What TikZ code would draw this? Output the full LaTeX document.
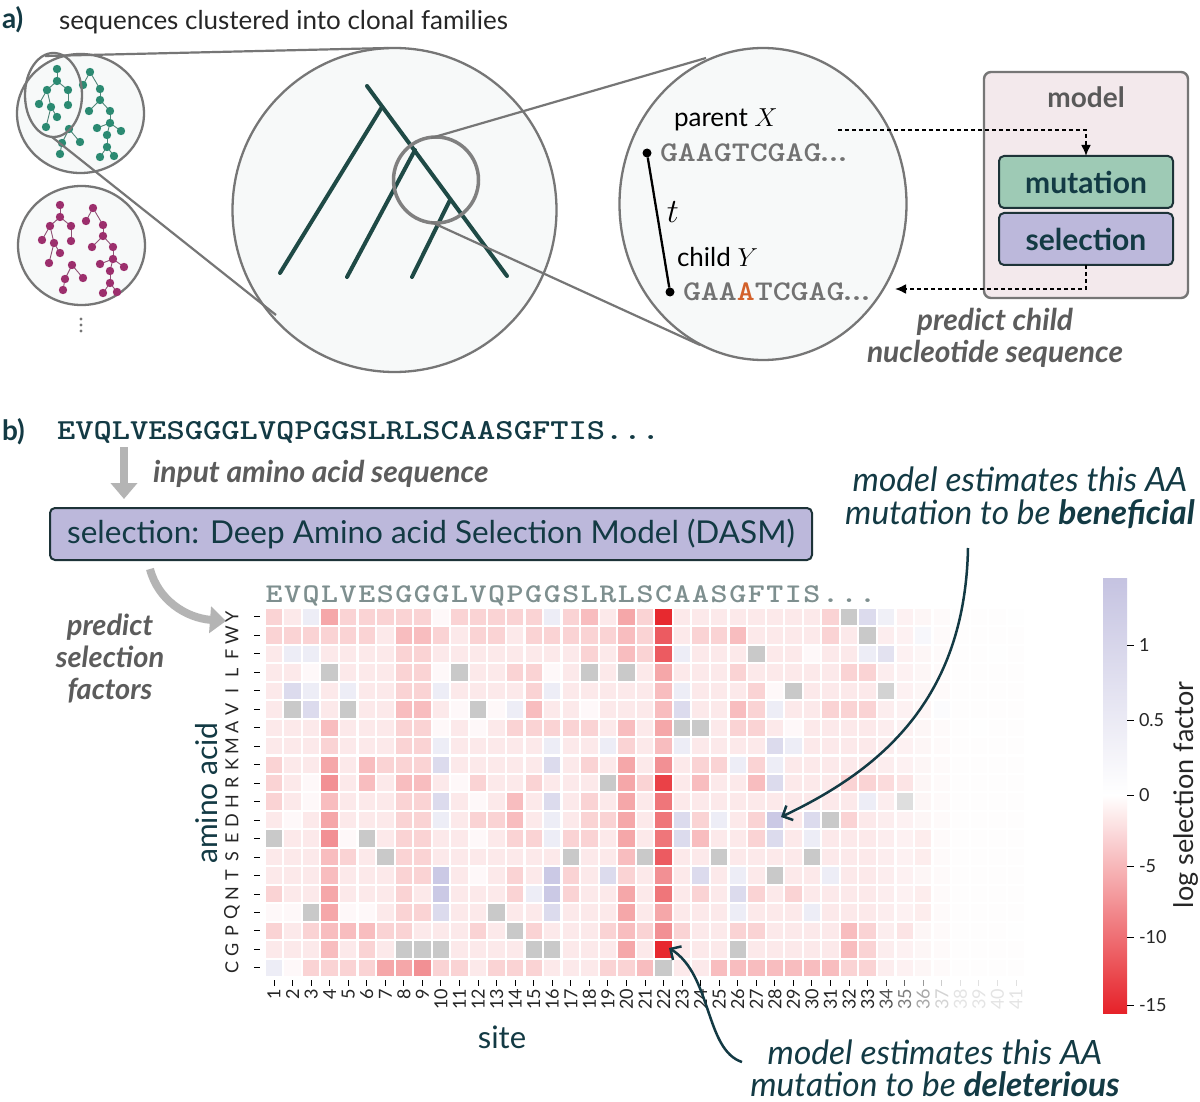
\RequirePackage{fix-cm}
\documentclass[tikz,border=0pt]{standalone}
\usepackage{fontspec}
\setmainfont{Lato}
\newfontfamily\seqfont{lmmonolt10-bold.otf}[FakeStretch=1.2]
\usetikzlibrary{arrows.meta}

\definecolor{ink}{HTML}{133A44}
\definecolor{treedark}{HTML}{1F4A46}
\definecolor{famgreen}{HTML}{2B8A72}
\definecolor{fammag}{HTML}{9C2F6D}
\definecolor{lensgray}{HTML}{767676}
\definecolor{lensfill}{HTML}{F7F9F9}
\definecolor{modelfill}{HTML}{F3E9EC}
\definecolor{mutfill}{HTML}{9ECAB5}
\definecolor{selfill}{HTML}{BCB8DB}
\definecolor{boxline}{HTML}{1D3338}
\definecolor{arrowgray}{HTML}{B4B4B4}
\definecolor{notegray}{HTML}{5C5C5C}
\definecolor{ntgray}{HTML}{727272}
\definecolor{hmseq}{HTML}{7E8F8F}
\definecolor{mutorange}{HTML}{D3612B}
\definecolor{hred}{HTML}{E62229}
\definecolor{hblue}{HTML}{B9B7DC}
\definecolor{cbtop}{HTML}{C5C3E1}

\newcommand{\fsz}[1]{\fontsize{#1}{#1}\selectfont}
\newcommand{\tightdots}{\kern-6pt.\kern-9pt.\kern-9pt.}

% heatmap cell colours
\tikzset{
  h0/.style={fill=hred!3!white}, h1/.style={fill=hred!10!white},
  h2/.style={fill=hred!20!white}, h3/.style={fill=hred!30!white},
  h4/.style={fill=hred!40!white}, h5/.style={fill=hred!50!white},
  h6/.style={fill=hred!62!white}, h7/.style={fill=hred!74!white},
  h8/.style={fill=hred!86!white}, h9/.style={fill=hred!97!white},
  hf/.style={fill=hblue!25!white}, hb/.style={fill=hblue!50!white},
  hB/.style={fill=hblue!75!white}, hg/.style={fill=black!21},
}

% one clonal family: #1 colour, #2 shift
\newcommand{\clonefamily}[2]{%
  \begin{scope}[shift={#2}]
    \foreach \ax/\ay/\bx/\by in {57/69/57/81,57/81/47/90,57/81/68/90,47/90/39/104,
        47/90/51/107,51/107/57/117,51/107/46/127,68/90/68/105,
        90/72/83/85,90/72/100/89,100/89/100/100,100/100/89/111,100/100/110/111,
        110/111/110/123,110/123/97/128,110/123/121/131,110/123/107/135,
        107/135/107/147,107/147/100/157,107/147/114/156,
        69/129/62/143,69/129/80/142,62/143/60/154}
      \draw[famedge=#1] (\ax,\ay) -- (\bx,\by);
    \foreach \px/\py in {57/69,57/81,47/90,68/90,39/104,51/107,68/105,57/117,46/127,
        90/72,83/85,100/89,100/100,89/111,110/111,110/123,97/128,121/131,107/135,
        107/147,100/157,114/156,69/129,62/143,80/142,60/154}
      \fill[#1] (\px,\py) circle (4.2pt);
  \end{scope}}

\begin{document}
\begin{tikzpicture}[x=1pt,y=-1pt,>={Latex[length=11pt,width=10pt]},
    every node/.style={inner sep=0pt,outer sep=0pt},
    lens/.style={draw=lensgray,line width=2.3pt,fill=lensfill},
    zoomline/.style={draw=lensgray,line width=2.2pt},
    branch/.style={draw=treedark,line width=4pt,line cap=round},
    famedge/.style={draw=#1!55!gray,line width=0.9pt},
    stagebox/.style={draw=boxline,line width=2pt,rounded corners=5pt,minimum width=174pt,
        minimum height=52pt,font=\fsz{30}\bfseries,text=ink},
    flow/.style={draw=black,line width=2pt,dash pattern=on 4pt off 3pt,->},
    bigarrow/.style={draw=arrowgray,line width=8pt,-{Triangle[length=16pt,width=26pt]}},
    note/.style={font=\fontsize{30}{32}\selectfont\bfseries\itshape,text=notegray,align=center},
    annot/.style={font=\fontsize{33.5}{33}\selectfont\itshape,text=ink,align=center},
    annarrow/.style={draw=ink,line width=2.5pt,-{Straight Barb[length=8pt,width=16pt]}},
    ticklab/.style={font=\fsz{18},text=black!85}]
\fill[white] (0,0) rectangle (1200,1102);
\useasboundingbox (0,0) rectangle (1200,1102);

% a) clonal families
\node[anchor=west,font=\fsz{28}\bfseries,text=ink] (parta) at (2,20) {a)};
\node[anchor=west,font=\fsz{26},text=black!85] (title) at (59,22) {sequences clustered into clonal families};
\draw[lens] (80.5,113.5) ellipse [x radius=63.5pt,y radius=59.5pt];
\draw[lens] (81.5,245.5) ellipse [x radius=63.5pt,y radius=59.5pt];
\clonefamily{famgreen}{(0,0)}
\clonefamily{fammag}{(3,136)}
\draw[lensgray,line width=2.3pt] (53.5,95) ellipse [x radius=28.5pt,y radius=42pt];
\foreach \yy in {319,325,331} \fill[lensgray] (81,\yy) circle (1.7pt);

% one family enlarged
\draw[lens] (394.5,210) circle (162pt);
\draw[branch] (367,86) -- (507,276);
\draw[branch] (382,107) -- (280,273);
\draw[branch] (415,150) -- (347,277);
\draw[branch] (450,200) -- (412,277);
\draw[black!50,line width=3.5pt] (436,180) ellipse [x radius=42.5pt,y radius=43pt];

% one branch enlarged
\draw[lens] (763,204) ellipse [x radius=143.5pt,y radius=156pt];
\draw[zoomline] (45,56) -- (388,48);
\draw[zoomline] (52,137) -- (276,315);
\draw[zoomline] (431,138) -- (706,58);
\draw[zoomline] (431,222) -- (700,345);

\node[anchor=west,font=\fsz{26}] (parlab) at (674,120) {parent $X$};
\node[anchor=west,font=\fsz{28.5}\seqfont,text=ntgray] (parseq) at (660,153) {GAAGTCGAG\tightdots};
\node[anchor=west,font=\fsz{26}] (chlab) at (677,257) {child $Y$};
\node[anchor=west,font=\fsz{28.5}\seqfont,text=ntgray] (chseq) at (683,292) {GAA{\color{mutorange}A}TCGAG\tightdots};
\node[circle,fill=black,minimum size=9pt] (pdot) at (647,153) {};
\node[circle,fill=black,minimum size=9pt] (cdot) at (670,292) {};
\draw[line width=2.3pt] (pdot) -- (cdot);
\node[font=\fsz{34}] (tlab) at (673,212) {$t$};

% model
\node[draw=lensgray,line width=2.4pt,fill=modelfill,rounded corners=7pt,minimum width=204pt,minimum height=226pt] (model) at (1086,185) {};
\node[font=\fsz{28}\bfseries,text=black!65] (modellab) at (1086,97) {model};
\node[stagebox,fill=mutfill] (mut) at (1086,182) {mutation};
\node[stagebox,fill=selfill] (sel) at (1086,239) {selection};
\coordinate (fromparent) at (838,130);
\coordinate (tochild) at (895,289);
\draw[flow] (fromparent) -| (mut.north);
\draw[flow] (sel.south) |- (tochild);
\node[note] (predchild) at (995,338) {predict child\\nucleotide sequence};

% b) selection model
\node[anchor=west,font=\fsz{28}\bfseries,text=ink] (partb) at (2,432) {b)};
\node[anchor=west,font=\fsz{29}\seqfont,text=ink] (aaseq) at (57,432) {EVQLVESGGGLVQPGGSLRLSCAASGFTIS...};
\coordinate (intop) at (124,447);
\coordinate (inbot) at (124,499);
\draw[bigarrow] (intop) -- (inbot);
\node[anchor=west,note] (inlab) at (153,474) {input amino acid sequence};
\node[draw=boxline,line width=2pt,fill=selfill,rounded corners=5pt,minimum width=762pt,minimum height=52pt,
    font=\fsz{31.5},text=ink] (dasm) at (431,534) {selection: Deep Amino acid Selection Model (DASM)};
\coordinate (outtop) at (150,569);
\coordinate (outend) at (226,621);
\draw[bigarrow] (outtop) .. controls (158,600) and (186,618) .. (outend);
\node[note,font=\fontsize{29}{32}\selectfont\bfseries\itshape] (predsel) at (110,659) {predict\\selection\\factors};

% heatmap
\foreach \ch [count=\c] in {E,V,Q,L,V,E,S,G,G,G,L,V,Q,P,G,G,S,L,R,L,S,C,A,A,S,G,F,T,I,S,.,.,.} {
  \pgfmathsetmacro\cx{255.475+18.55*\c}
  \node[font=\fsz{27}\seqfont,text=hmseq,anchor=base] (wt\c) at (\cx,602) {\ch};
}
\foreach \row [count=\r] in {
 {2,1,f,4,2,2,2,2,2,0,2,2,2,2,2,f,2,3,1,4,2,9,1,1,1,1,1,1,1,1,2,g,b,f,1,1,1,1,1,1,0},
 {2,2,2,2,2,2,1,3,3,2,1,2,2,1,2,2,2,2,2,3,2,7,1,2,2,3,1,1,1,1,2,1,g,1,1,f,1,1,1,1,1},
 {1,f,f,1,1,1,1,2,2,1,1,1,1,1,1,1,1,2,1,3,2,7,f,1,1,1,g,1,1,0,1,1,f,b,1,1,1,1,1,0,1},
 {1,1,0,g,1,1,1,2,2,0,g,1,1,2,2,0,1,g,1,g,1,4,1,1,1,2,1,1,1,1,1,2,2,1,1,1,1,1,1,1,1},
 {1,b,f,1,f,1,1,2,2,f,1,1,1,1,2,f,1,1,1,1,1,3,f,1,1,1,2,0,g,1,1,1,1,g,1,1,1,1,1,1,1},
 {1,g,b,1,g,1,1,3,3,1,0,g,0,f,3,1,1,0,1,1,1,3,b,1,1,3,2,f,1,1,2,2,2,1,1,1,f,1,1,1,1},
 {1,1,1,3,1,1,1,2,2,0,1,0,1,2,2,2,2,2,1,3,1,4,g,g,1,2,2,1,0,1,1,1,1,1,1,1,1,1,f,1,1},
 {1,1,1,2,1,1,1,2,2,f,1,1,1,1,1,f,1,1,f,2,1,3,f,1,1,1,1,b,f,1,1,1,1,1,1,1,1,1,1,1,1},
 {2,1,1,4,1,3,2,2,2,b,1,1,1,1,1,b,1,2,1,4,1,5,1,2,2,f,2,f,1,1,1,1,1,1,1,1,1,1,1,1,1},
 {2,1,0,5,1,3,1,3,3,1,0,2,1,1,2,1,1,1,g,4,2,8,1,3,1,1,3,b,1,1,1,2,2,2,2,1,1,1,1,1,1},
 {2,1,0,3,1,1,1,2,2,b,1,0,1,3,1,b,1,2,1,4,1,6,1,1,1,1,1,1,1,1,1,1,f,1,g,1,1,1,1,1,1},
 {1,0,1,4,1,1,1,2,2,f,1,2,2,3,1,f,1,2,2,4,1,6,b,2,f,1,2,B,1,b,g,2,1,1,1,1,1,1,1,1,1},
 {g,1,1,5,0,g,1,2,2,1,1,0,1,2,2,f,2,2,1,4,1,6,b,3,1,1,2,b,1,f,1,1,1,1,1,2,1,1,1,1,1},
 {1,1,1,3,2,1,g,2,2,1,1,1,1,1,1,1,g,1,1,3,g,7,1,1,g,1,1,1,1,g,1,1,1,1,1,2,1,1,1,1,1},
 {1,1,1,3,1,1,1,2,2,B,1,0,1,2,1,B,2,1,b,2,1,5,1,b,1,f,1,g,1,1,f,1,1,1,1,1,1,1,1,1,1},
 {2,1,1,4,1,1,1,2,1,B,1,1,1,2,f,B,2,1,1,4,1,6,1,2,1,b,2,1,2,1,1,1,1,1,1,2,1,1,1,1,1},
 {0,0,g,4,0,0,1,2,2,b,1,1,g,1,1,b,1,1,1,4,1,4,1,1,1,f,1,1,1,f,1,1,1,1,1,2,1,1,1,1,1},
 {2,1,2,3,3,3,2,2,1,1,1,2,1,g,2,1,1,1,2,3,2,5,2,1,1,2,2,1,1,1,1,3,2,1,2,1,1,1,1,1,f},
 {1,1,1,3,1,2,1,g,g,g,1,1,1,1,g,g,1,1,1,4,1,9,1,1,1,g,1,1,1,1,1,3,2,1,1,1,1,1,1,1,1},
 {f,0,2,2,2,2,4,4,5,2,2,1,2,2,2,1,1,1,2,2,3,g,1,1,3,3,3,3,3,3,3,2,2,1,1,1,1,1,1,1,1}} {
  \foreach \v [count=\c] in \row {
    \pgfmathsetmacro\op{max(0.05,min(1,1-(\c-33)*0.2))}
    \pgfmathsetmacro\cx{255.475+18.55*\c}
    \pgfmathsetmacro\cy{598.515+18.47*\r}
    \fill[h\v,opacity=\op] (\cx-8.2,\cy-8.2) rectangle (\cx+8.2,\cy+8.2);
  }
}
\foreach \aa [count=\r] in {Y,W,F,L,I,V,A,M,K,R,H,D,E,S,T,N,Q,P,G,C} {
  \pgfmathsetmacro\cy{598.515+18.47*\r}
  \draw[line width=1pt] (254,\cy) -- (260,\cy);
  \node[ticklab,rotate=90] (aa\r) at (232,\cy) {\aa};
}
\foreach \c in {1,...,41} {
  \pgfmathsetmacro\op{max(0.12,min(1,1-(\c-33)*0.2))}
  \pgfmathsetmacro\cx{255.475+18.55*\c}
  \draw[line width=1pt,draw opacity=\op] (\cx,980) -- (\cx,986);
  \node[ticklab,rotate=90,anchor=east,text opacity=\op] (site\c) at (\cx,989) {\c};
}
\node[font=\fsz{31},text=ink] (sitelab) at (502,1037) {site};
\node[font=\fsz{30},text=ink,rotate=90] (aalab) at (207,793) {amino acid};

% colour bar
\shade[top color=cbtop,bottom color=white] (1103,578) rectangle (1127,795);
\shade[top color=white,bottom color=hred] (1103,795) rectangle (1127,1013);
\foreach \lab/\yy in {1/645,0.5/720,0/795,-5/866,-10/937,-15/1005} {
  \draw[line width=1pt] (1127,\yy) -- (1134,\yy);
  \node[ticklab,anchor=west] (cb\yy) at (1139,\yy) {\lab};
}
\node[font=\fsz{27},text=black!85,rotate=90] (cblab) at (1186,795) {log selection factor};

% annotations
\node[annot] (bentext) at (1020,498) {model estimates this AA\\mutation to be \textbf{beneficial}};
\node[annot,font=\fontsize{33.5}{32}\selectfont\itshape] (deltext) at (935,1068) {model estimates this AA\\mutation to be \textbf{deleterious}};
\coordinate (benfrom) at (968,548);
\coordinate (bencell) at (781,817);
\draw[annarrow] (benfrom) .. controls (965,700) and (880,770) .. (bencell);
\coordinate (delfrom) at (742,1062);
\coordinate (delcell) at (669,948);
\draw[annarrow] (delfrom) .. controls (705,1050) and (712,975) .. (delcell);
\end{tikzpicture}
\end{document}
